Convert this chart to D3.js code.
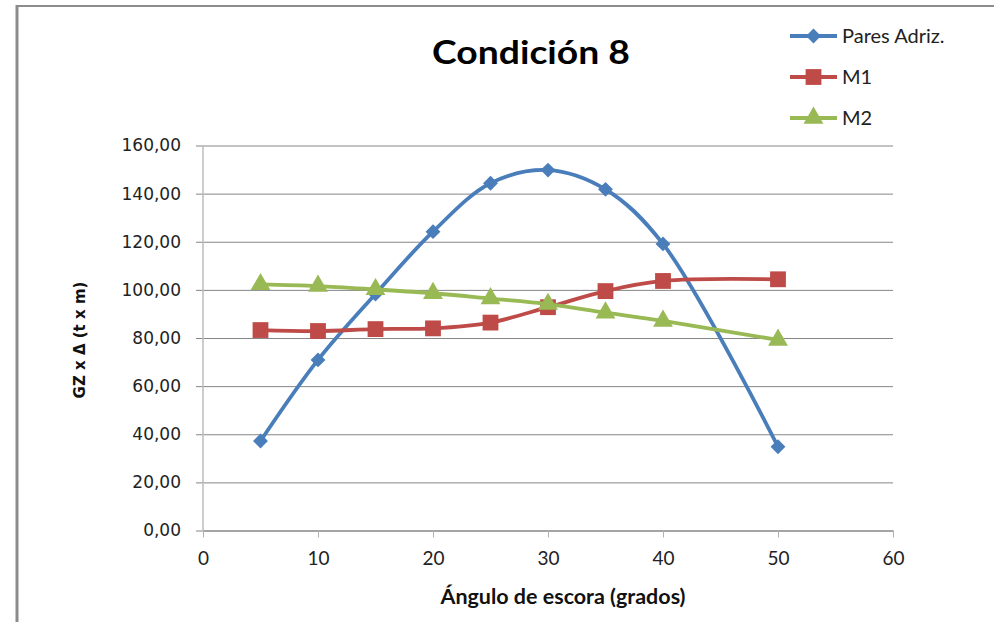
<!DOCTYPE html>
<html>
<head>
<meta charset="utf-8">
<script src="https://cdn.jsdelivr.net/npm/d3@7"></script>
<style>
  body { margin: 0; background: #fff; }
  svg { display: block; }
</style>
</head>
<body>
<svg></svg>
<script>
const size = { w: 994, h: 622 };
const plot = { l: 203, r: 893, t: 145.5, b: 530.5 };

// data
const angles = [5, 10, 15, 20, 25, 30, 35, 40, 50];
const paresAdriz = [37.2, 70.9, 98.3, 124.2, 144.3, 149.8, 141.8, 119.1, 34.8];
const m1 = [83.3, 82.9, 83.7, 84.0, 86.4, 92.8, 99.5, 103.7, 104.4];
const m2 = [102.3, 101.6, 100.2, 98.6, 96.4, 94.1, 90.5, 87.1, 79.2];
const seriesNames = ["Pares Adriz.", "M1", "M2"];
const xTicks = [0, 10, 20, 30, 40, 50, 60];
const yTicks = [0, 20, 40, 60, 80, 100, 120, 140, 160];

const colors = ["#4a7ebb", "#be4b48", "#98b954"];
const symbols = [d3.symbolSquare, d3.symbolSquare, d3.symbolTriangle];
const symSizes = [110, 250, 170];
const symRot = [45, 0, 0];

const svg = d3.select("svg").attr("width", size.w).attr("height", size.h);

// frame
svg.append("line").attr("x1", 17).attr("x2", 17).attr("y1", 5).attr("y2", size.h)
	.attr("stroke", "#8c8c8c").attr("stroke-width", 3);
svg.append("line").attr("x1", 16).attr("x2", size.w).attr("y1", 6).attr("y2", 6)
	.attr("stroke", "#8c8c8c").attr("stroke-width", 2);

const x = d3.scaleLinear().domain([0, 60]).range([plot.l, plot.r]);
const y = d3.scaleLinear().domain([0, 160]).range([plot.b, plot.t]);

const fmt = d3.formatLocale({ decimal: ",", thousands: ".", grouping: [3], currency: ["", "€"] }).format(".2f");

// horizontal gridlines + y labels
let yAxisG = svg.append("g")
	.attr("transform", "translate(196,0)")
	.call(d3.axisLeft(y).tickValues(yTicks).tickFormat(fmt).tickSize(-(plot.r - 196)).tickPadding(15));
yAxisG.select(".domain").remove();
yAxisG.selectAll(".tick line").attr("stroke", "#868686");
yAxisG.selectAll(".tick text")
	.attr("font-family", "DejaVu Sans, Verdana, sans-serif")
	.attr("font-size", 17).attr("fill", "#222");

// vertical axis line
svg.append("line").attr("x1", x(0)).attr("x2", x(0)).attr("y1", y(160)).attr("y2", y(0))
	.attr("stroke", "#bcbcbc").attr("stroke-width", 1.5);

// x axis
let xAxisG = svg.append("g")
	.attr("transform", "translate(0," + plot.b + ")")
	.call(d3.axisBottom(x).tickValues(xTicks).tickSizeInner(7).tickSizeOuter(0).tickPadding(14));
xAxisG.select(".domain").attr("stroke", "#868686");
xAxisG.selectAll(".tick line").attr("stroke", "#b0b0b0");
xAxisG.selectAll(".tick text")
	.attr("font-family", "Lato, sans-serif")
	.attr("font-size", 19).attr("fill", "#222");

// series
const series = [paresAdriz, m1, m2];
const line = d3.line()
	.x(function (d, i) { return x(angles[i]); })
	.y(function (d) { return y(d); })
	.curve(d3.curveCatmullRom);

series.forEach(function (vals, k) {
	let g = svg.append("g").attr("class", "series");
	g.append("path")
		.attr("d", line(vals))
		.attr("fill", "none")
		.attr("stroke", colors[k])
		.attr("stroke-width", 3.8)
		.attr("stroke-linejoin", "round");
	g.selectAll("path.mark")
		.data(vals)
		.enter()
		.append("path")
		.classed("mark", true)
		.attr("transform", function (d, i) {
			return "translate(" + x(angles[i]) + "," + y(d) + ") rotate(" + symRot[k] + ")";
		})
		.attr("d", d3.symbol().type(symbols[k]).size(symSizes[k]))
		.attr("fill", colors[k]);
});

// title
svg.append("text")
	.attr("x", 531).attr("y", 64)
	.attr("text-anchor", "middle")
	.attr("font-family", "Lato, sans-serif")
	.attr("font-weight", "bold")
	.attr("font-size", 33)
	.attr("textLength", 198)
	.attr("lengthAdjust", "spacingAndGlyphs")
	.attr("fill", "#000")
	.text("Condición 8");

// axis titles
svg.append("text")
	.attr("x", 563).attr("y", 604)
	.attr("text-anchor", "middle")
	.attr("font-family", "Lato, sans-serif")
	.attr("font-weight", "bold")
	.attr("font-size", 20)
	.attr("textLength", 245)
	.attr("lengthAdjust", "spacingAndGlyphs")
	.attr("fill", "#111")
	.text("Ángulo de escora (grados)");

svg.append("text")
	.attr("transform", "translate(85,340) rotate(-90)")
	.attr("text-anchor", "middle")
	.attr("font-family", "DejaVu Sans, Verdana, sans-serif")
	.attr("font-weight", "bold")
	.attr("font-size", 15)
	.attr("fill", "#111")
	.text("GZ x Δ (t x m)");

// legend
let legend = svg.append("g").attr("transform", "translate(790,36)");
let items = legend.selectAll("g")
	.data(seriesNames)
	.enter()
	.append("g")
	.attr("transform", function (d, i) { return "translate(0," + i * 41 + ")"; });
items.append("line")
	.attr("x1", 0).attr("x2", 47).attr("y1", 0).attr("y2", 0)
	.attr("stroke", function (d, i) { return colors[i]; })
	.attr("stroke-width", 3.8);
items.append("path")
	.attr("transform", function (d, i) { return "translate(23.5,0) rotate(" + symRot[i] + ")"; })
	.attr("d", function (d, i) { return d3.symbol().type(symbols[i]).size(symSizes[i])(); })
	.attr("fill", function (d, i) { return colors[i]; });
items.append("text")
	.attr("x", 52).attr("y", 0)
	.attr("dy", "0.35em")
	.attr("font-family", "Lato, sans-serif")
	.attr("font-size", 20)
	.attr("fill", "#222")
	.text(function (d) { return d; });
</script>
</body>
</html>
